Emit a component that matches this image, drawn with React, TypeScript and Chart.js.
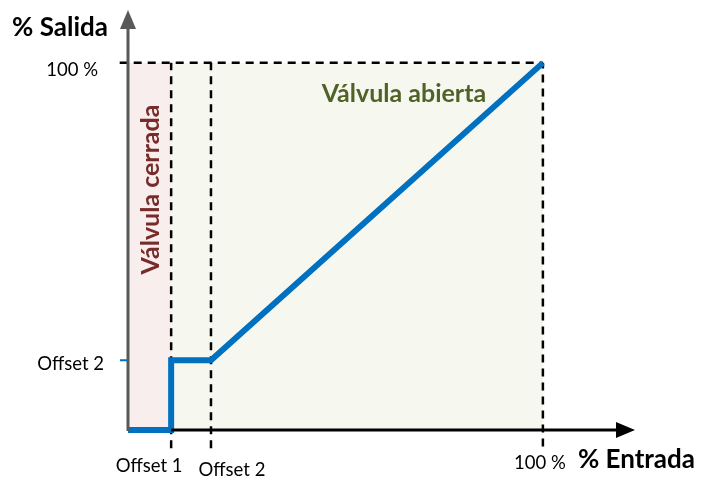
import React, { useEffect, useRef } from "react";
import { Chart, registerables } from "chart.js";

Chart.register(...registerables);

// Data (percent units)
const offset1X = 10.4;
const offset2X = 20;
const offset2Y = 19;
const fullScale = 100;
const curveX = [0, offset1X, offset1X, offset2X, fullScale];
const curveY = [0, 0, offset2Y, offset2Y, fullScale];
const xTickLabels = ["Offset 1", "Offset 2", "100 %"];
const yTickLabels = ["Offset 2", "100 %"];
const xAxisTitle = "% Entrada";
const yAxisTitle = "% Salida";
const closedLabel = "Válvula cerrada";
const openLabel = "Válvula abierta";

const FONT = "Lato, 'Open Sans', sans-serif";

const decorPlugin = {
  id: "decor",
  beforeDatasetsDraw(chart: any) {
    const { ctx, scales } = chart;
    const x = scales.x, y = scales.y;
    const px = (v: number) => x.getPixelForValue(v);
    const py = (v: number) => y.getPixelForValue(v);
    ctx.save();
    ctx.fillStyle = "#f8eeee";
    ctx.fillRect(px(0), py(fullScale), px(offset1X) - px(0), py(0) - py(fullScale));
    ctx.fillStyle = "#f6f7ef";
    ctx.fillRect(px(offset1X), py(fullScale), px(fullScale) - px(offset1X), py(0) - py(fullScale));
    ctx.restore();
  },
  afterDatasetsDraw(chart: any) {
    const { ctx, scales, chartArea } = chart;
    const x = scales.x, y = scales.y;
    const px = (v: number) => x.getPixelForValue(v);
    const py = (v: number) => y.getPixelForValue(v);
    const ox = px(0), oy = py(0);
    ctx.save();
    // y axis
    ctx.strokeStyle = "#595959";
    ctx.lineWidth = 3;
    ctx.beginPath();
    ctx.moveTo(ox, oy + 1);
    ctx.lineTo(ox, chartArea.top + 14);
    ctx.stroke();
    ctx.fillStyle = "#595959";
    ctx.beginPath();
    ctx.moveTo(ox, chartArea.top);
    ctx.lineTo(ox - 8, chartArea.top + 19);
    ctx.lineTo(ox + 8, chartArea.top + 19);
    ctx.closePath();
    ctx.fill();
    // x axis
    ctx.strokeStyle = "#000";
    ctx.fillStyle = "#000";
    ctx.beginPath();
    ctx.moveTo(px(offset1X), oy);
    ctx.lineTo(chartArea.right - 14, oy);
    ctx.stroke();
    ctx.beginPath();
    ctx.moveTo(chartArea.right, oy);
    ctx.lineTo(chartArea.right - 19, oy - 8);
    ctx.lineTo(chartArea.right - 19, oy + 8);
    ctx.closePath();
    ctx.fill();
    // blue y tick
    ctx.strokeStyle = "#0070c0";
    ctx.lineWidth = 2;
    ctx.beginPath();
    ctx.moveTo(ox - 8, py(offset2Y));
    ctx.lineTo(ox, py(offset2Y));
    ctx.stroke();

    // tick labels
    ctx.fillStyle = "#000";
    ctx.font = `18.5px ${FONT}`;
    ctx.textBaseline = "middle";
    ctx.textAlign = "center";
    ctx.fillText(xTickLabels[0], px(offset1X) - 22, oy + 36);
    ctx.fillText(xTickLabels[1], px(offset2X) + 21, oy + 40);
    ctx.fillText(xTickLabels[2], px(fullScale) - 3, oy + 33);
    ctx.textAlign = "right";
    ctx.fillText(yTickLabels[0], ox - 24, py(offset2Y) + 4);
    ctx.fillText(yTickLabels[1], ox - 30, py(fullScale) + 7);

    // axis titles
    ctx.font = `bold 26px ${FONT}`;
    ctx.textAlign = "center";
    ctx.fillText(yAxisTitle, 60, chartArea.top + 18);
    ctx.textAlign = "left";
    ctx.fillText(xAxisTitle, px(fullScale) + 35, oy + 30);

    // region labels
    ctx.font = `bold 25px ${FONT}`;
    ctx.fillStyle = "#4f6228";
    ctx.textAlign = "center";
    ctx.fillText(openLabel, px(66.5), py(91.5));
    ctx.save();
    ctx.translate((px(0) + px(offset1X)) / 2 + 1, py(65.5));
    ctx.rotate(-Math.PI / 2);
    ctx.fillStyle = "#772c2a";
    ctx.fillText(closedLabel, 0, 0);
    ctx.restore();
    ctx.restore();
  },
};

function dashed(points: { x: number; y: number }[]) {
  return {
    data: points,
    borderColor: "#000",
    borderWidth: 2.5,
    borderDash: [8, 6],
    pointRadius: 0,
    clip: false as any,
    order: 2,
  };
}

export default function App() {
  const ref = useRef<HTMLCanvasElement>(null);
  useEffect(() => {
    if (!ref.current) return;
    const chart = new Chart(ref.current, {
      type: "line",
      data: {
        datasets: [
          {
            data: curveX.map((v, i) => ({ x: v, y: curveY[i] })),
            borderColor: "#0070c0",
            borderWidth: 6,
            pointRadius: 0,
            borderJoinStyle: "miter",
            borderCapStyle: "butt",
            clip: false as any,
            order: 1,
          } as any,
          dashed([{ x: -2, y: fullScale }, { x: fullScale, y: fullScale }]),
          dashed([{ x: offset1X, y: -5 }, { x: offset1X, y: fullScale }]),
          dashed([{ x: offset2X, y: -5 }, { x: offset2X, y: fullScale }]),
          dashed([{ x: fullScale, y: -4.5 }, { x: fullScale, y: fullScale }]),
        ],
      },
      options: {
        animation: false,
        responsive: false,
        layout: { padding: { left: 128, right: 67, top: 10, bottom: 47 } },
        plugins: { legend: { display: false }, tooltip: { enabled: false } },
        scales: {
          x: { type: "linear", min: 0, max: 122.2, display: false },
          y: { type: "linear", min: 0, max: 114.4, display: false },
        },
      },
      plugins: [decorPlugin],
    });
    return () => chart.destroy();
  }, []);
  return (
    <div style={{ position: "fixed", left: 0, top: 0, width: 702, height: 477, background: "#fff" }}>
      <canvas ref={ref} width={702} height={477} style={{ width: 702, height: 477 }} />
    </div>
  );
}
